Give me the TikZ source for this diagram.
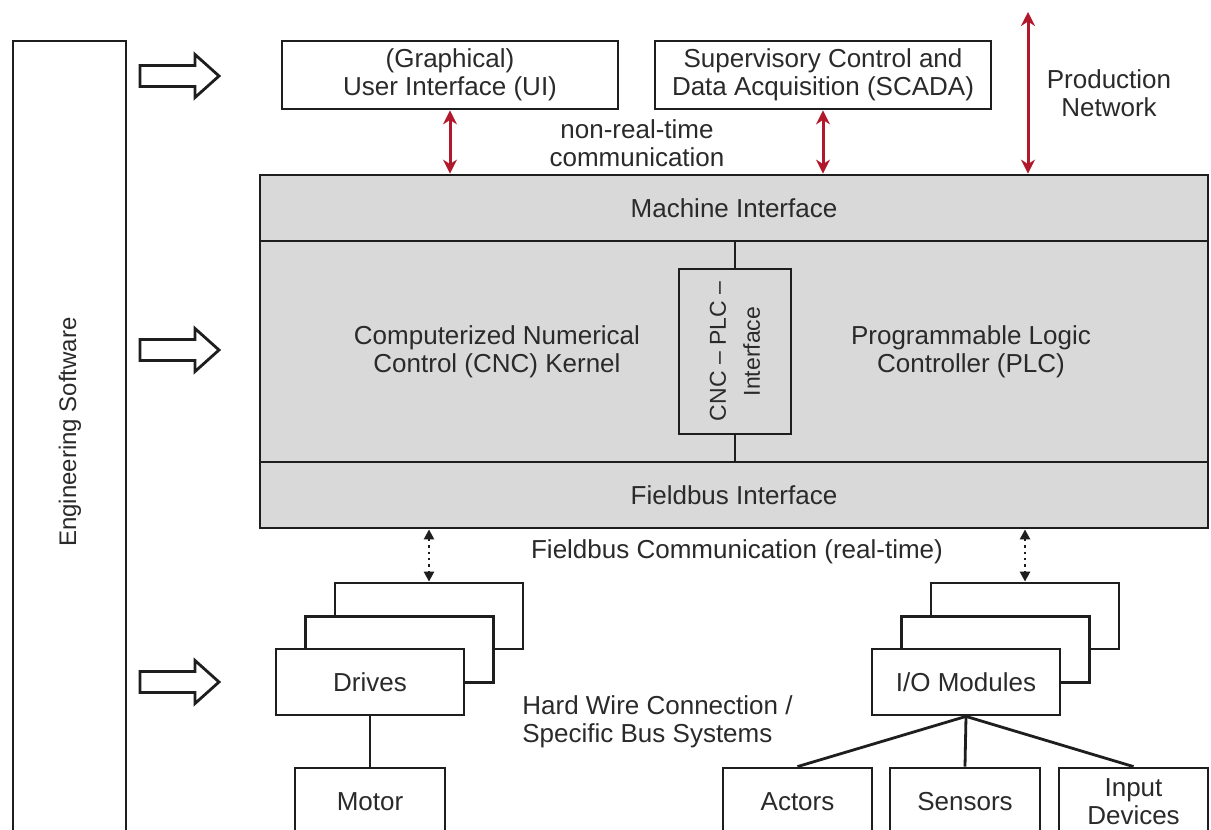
\documentclass[tikz,border=0pt]{standalone}
\usepackage{fontspec}
\setmainfont{Liberation Sans}
\usetikzlibrary{arrows.meta,calc}
\definecolor{boxgray}{HTML}{D9D9D9}
\definecolor{darkred}{HTML}{B2182B}
\definecolor{txt}{HTML}{2A2A2A}
\definecolor{ln}{HTML}{1E1E1E}
\begin{document}
\begin{tikzpicture}[x=0.5pt,y=-0.5pt,
  every node/.style={font=\fontsize{13}{14}\selectfont, text=txt, inner sep=0pt, align=center},
  box/.style={draw=ln, line width=1.4pt, fill=white},
  graybox/.style={draw=ln, line width=1.4pt, fill=boxgray},
  conn/.style={draw=ln, line width=1.4pt},
  redarr/.style={draw=darkred, line width=1.5pt, {Stealth[length=7pt,width=7pt]}-{Stealth[length=7pt,width=7pt]}},
  dotarr/.style={draw=ln, line width=1.2pt, dotted, {Triangle[length=5pt,width=5pt]}-{Triangle[length=5pt,width=5pt]}},
  harrow/.pic={\draw[ln, line width=1.4pt, fill=white, line join=miter] (0,-10.5) -- (55,-10.5) -- (55,-21.5) -- (79,0) -- (55,21.5) -- (55,10.5) -- (0,10.5) -- cycle;}
]
\clip (0,0) rectangle (1211,830);
\fill[white] (0,0) rectangle (1211,830);

% engineering software
\node[box, minimum width=56.5pt, minimum height=409.5pt] (eng) at (69.5,450.5) {};
\node[rotate=90, font=\fontsize{12}{14}\selectfont] (engtxt) at (70,432) {Engineering Software};
\pic at (140,76) {harrow};
\pic at (140,350) {harrow};
\pic at (140,682) {harrow};

% top boxes
\node[box, minimum width=168pt, minimum height=34pt] (ui) at (450,75) {(Graphical)\\User Interface (UI)};
\node[box, minimum width=168pt, minimum height=34pt] (scada) at (823,75) {Supervisory Control and\\Data Acquisition (SCADA)};

% main controller
\node[graybox, minimum width=474pt, minimum height=33pt] (mi) at (734,208) {Machine Interface};
\node[graybox, minimum width=474pt, minimum height=110.5pt] (core) at (734,351.5) {};
\node[graybox, minimum width=474pt, minimum height=33pt] (fi) at (734,495) {Fieldbus Interface};
\node (cnc) at (497,352) {Computerized Numerical\\Control (CNC) Kernel};
\node (plc) at (971,352) {Programmable Logic\\Controller (PLC)};
\node[graybox, minimum width=56pt, minimum height=82.5pt] (cncbox) at (735,351.5) {};
\node[rotate=90, font=\fontsize{11.5}{17}\selectfont] (cnctxt) at (cncbox) {CNC – PLC –\\Interface};
\draw[conn] (cncbox.north) -- (cncbox.north |- mi.south);
\draw[conn] (cncbox.south) -- (cncbox.south |- fi.north);

% red arrows
\coordinate (pn) at (1028,12);
\draw[redarr] (ui.south) -- (ui.south |- mi.north);
\draw[redarr] (scada.south) -- (scada.south |- mi.north);
\draw[redarr] (pn) -- (pn |- mi.north);

% labels
\node (nrt) at (637,143.5) {non-real-time\\communication};
\node (pnl) at (1109,93.5) {Production\\Network};
\node (fbc) at (737,552) {Fieldbus Communication (real-time)};
\node[align=left, anchor=west] (hw) at (522,721.5) {Hard Wire Connection /\\Specific Bus Systems};

% drives stack
\node[box, minimum width=94pt, minimum height=33pt] (drv3) at (429,616) {};
\node[box, minimum width=94pt, minimum height=33pt] (drv2) at (399.5,649.5) {};
\node[box, minimum width=94pt, minimum height=33pt] (drv) at (370,682) {Drives};

% io stack
\node[box, minimum width=94pt, minimum height=33pt] (io3) at (1025,616) {};
\node[box, minimum width=94pt, minimum height=33pt] (io2) at (995.5,649.5) {};
\node[box, minimum width=94pt, minimum height=33pt] (io) at (966,682) {I/O Modules};

\draw[dotarr] (drv3.north |- fi.south) -- (drv3.north);
\draw[dotarr] (io3.north |- fi.south) -- (io3.north);

% bottom devices
\node[box, minimum width=75pt, minimum height=34pt] (motor) at (370,802) {Motor};
\node[box, minimum width=74.5pt, minimum height=34pt] (actors) at (797.5,802) {Actors};
\node[box, minimum width=75pt, minimum height=34pt] (sensors) at (965,802) {Sensors};
\node[box, minimum width=74.5pt, minimum height=34pt] (input) at (1133.5,802) {Input\\Devices};

\draw[conn] (drv.south) -- (motor.north);
\draw[conn] (io.south) -- (actors.north);
\draw[conn] (io.south) -- (sensors.north);
\draw[conn] (io.south) -- (input.north);
\end{tikzpicture}
\end{document}
